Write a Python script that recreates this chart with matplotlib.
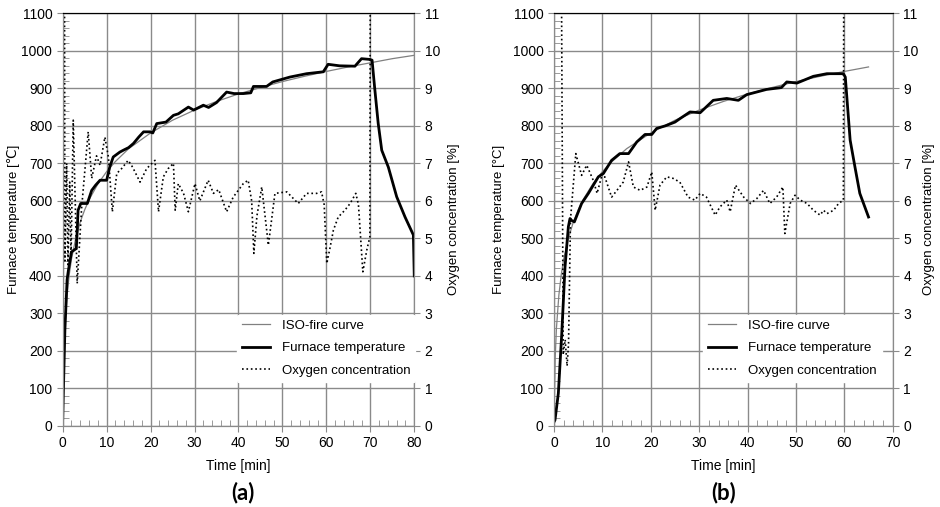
import matplotlib
matplotlib.use('Agg')
import matplotlib.pyplot as plt
from matplotlib.ticker import MultipleLocator

plt.rcParams['font.family'] = ['Liberation Sans', 'DejaVu Sans']
plt.rcParams['font.size'] = 10

# ISO-fire curve values
iso_t = [0, 0.25, 0.5, 1, 1.5, 2, 3, 4, 5, 6, 8, 10, 12, 15, 20, 25, 30, 35,
         40, 45, 50, 55, 60, 65, 70, 75, 80]
iso_T = [20, 185, 261, 349, 404, 445, 502, 544, 576, 603, 645, 678, 705, 739,
         781, 815, 842, 865, 885, 902, 918, 932, 945, 957, 968, 979, 988]

# (a) furnace temperature
fa_t = [0, 0.5, 1.0, 1.3, 2.0, 3.1, 3.3, 3.5, 4.1, 5.6, 6.6, 7.5, 8.5, 10.0,
        10.7, 11.5, 13.0, 13.8, 15.0, 16.1, 17.3, 18.4, 19.9, 20.5, 21.4, 23.5,
        25.2, 26.3, 28.6, 29.8, 32.0, 33.2, 35.0, 37.3, 39.0, 41.1, 42.8, 43.4,
        46.4, 47.8, 51.7, 55.5, 59.3, 60.4, 63.0, 66.5, 68.0, 69.9, 70.4, 71.0,
        71.8, 72.6, 74.1, 76.0, 77.9, 79.8, 80.0]
fa_T = [20, 256, 390, 415, 464, 473, 520, 575, 593, 593, 628, 642, 655, 655,
        690, 717, 730, 735, 742, 753, 770, 784, 784, 781, 806, 810, 828, 832,
        850, 842, 855, 849, 862, 890, 886, 886, 888, 905, 905, 917, 930, 939,
        944, 964, 960, 959, 979, 977, 975, 900, 806, 735, 690, 611, 557, 509, 400]

# (a) oxygen concentration
oa_t = [0, 0.3, 0.5, 0.9, 1.2, 1.6, 1.9, 2.4, 3.3, 4.3, 5.8, 6.6, 7.7, 8.5,
        9.6, 10.4, 11.3, 12.3, 13.4, 14.9, 15.9, 17.6, 19.1, 21.0, 21.8, 22.9,
        24.0, 25.2, 25.6, 26.3, 27.5, 28.6, 30.1, 31.2, 33.1, 34.3, 35.5, 37.3,
        38.8, 41.1, 42.2, 43.0, 43.5, 44.2, 45.3, 46.8, 48.3, 51.0, 53.6, 55.5,
        57.8, 58.9, 59.5, 60.1, 60.8, 61.6, 62.7, 64.2, 65.4, 66.7, 67.3, 68.3,
        69.2, 69.9, 70.1, 80]
oa_O = [20.9, 20.9, 4.4, 7.0, 4.3, 6.5, 4.5, 8.15, 3.8, 5.8, 7.84, 6.6, 7.2,
        6.95, 7.7, 7.17, 5.71, 6.73, 6.86, 7.08, 6.9, 6.5, 6.86, 7.08, 5.71,
        6.64, 6.86, 7.0, 5.75, 6.46, 6.2, 5.71, 6.46, 6.0, 6.55, 6.2, 6.3, 5.71,
        6.1, 6.46, 6.55, 6.0, 4.6, 5.6, 6.37, 4.82, 6.2, 6.24, 5.93, 6.2, 6.2,
        6.24, 5.9, 4.33, 4.73, 5.22, 5.57, 5.75, 5.93, 6.2, 5.9, 4.11, 4.69,
        5.04, 20.9, 20.9]

# (b) furnace temperature
fb_t = [0, 0.2, 0.89, 1.6, 2.27, 2.96, 3.3, 3.6, 4.2, 5.7, 7.1, 9.15, 10.2,
        11.9, 13.6, 15.4, 17.1, 18.8, 20.2, 21.2, 23.0, 25.0, 26.0, 28.1, 30.2,
        32.9, 35.7, 38.1, 39.8, 43.9, 47.0, 48.1, 50.2, 53.6, 56.4, 59.8, 60.2,
        61.2, 62.2, 63.2, 65.0]
fb_T = [11, 16, 87, 247, 424, 531, 553, 548, 544, 593, 620, 664, 673, 708, 726,
        726, 757, 777, 777, 793, 800, 810, 819, 837, 835, 868, 873, 868, 883,
        897, 902, 917, 914, 932, 939, 939, 930, 762, 690, 620, 557]

# (b) oxygen concentration
ob_t = [0, 1.2, 1.9, 2.3, 2.7, 3.0, 3.4, 4.5, 5.7, 6.75, 8.1, 8.9, 9.8, 10.5,
        11.9, 13.0, 14.3, 15.4, 16.4, 17.8, 19.2, 20.2, 20.9, 21.9, 23.3, 24.6,
        26.0, 27.7, 29.1, 30.2, 31.5, 33.3, 34.3, 35.7, 36.4, 37.5, 39.2, 40.6,
        41.9, 43.3, 44.6, 46.0, 47.3, 47.7, 48.8, 49.8, 50.9, 52.3, 53.6, 55.0,
        55.7, 56.4, 57.8, 58.8, 59.8, 60.0, 65]
ob_O = [20.9, 20.9, 1.9, 2.3, 1.6, 2.2, 5.5, 7.26, 6.68, 6.95, 6.55, 6.2, 6.64,
        6.64, 6.1, 6.28, 6.5, 7.04, 6.37, 6.28, 6.37, 6.77, 5.75, 6.42, 6.64,
        6.6, 6.5, 6.1, 6.02, 6.2, 6.1, 5.62, 5.84, 6.02, 5.71, 6.42, 6.1, 5.93,
        6.06, 6.28, 5.93, 6.1, 6.37, 5.13, 5.93, 6.15, 6.02, 5.93, 5.75, 5.62,
        5.75, 5.66, 5.75, 5.93, 6.02, 20.9, 20.9]

grid_c = '#8a8a8a'


def draw_panel(rect, xmax, iso_end, ft, fT, ot, oO, ylab, lx, rx, legx, tag, tagx):
    ax = fig.add_axes(rect)
    n = iso_t.index(iso_end) + 1
    ax.plot(iso_t[:n], iso_T[:n], color='#808080', lw=0.9, label='ISO-fire curve')
    ax.plot(ft, fT, color='black', lw=2, label='Furnace temperature')
    ax.set_xlim(0, xmax)
    ax.set_ylim(0, 1100)
    ax.xaxis.set_major_locator(MultipleLocator(10))
    ax.xaxis.set_minor_locator(MultipleLocator(2))
    ax.yaxis.set_major_locator(MultipleLocator(100))
    ax.yaxis.set_minor_locator(MultipleLocator(20))
    ax.grid(True, which='major', color=grid_c, lw=1)
    ax.set_axisbelow(True)
    ax.tick_params(which='major', direction='out', length=4, color=grid_c, labelsize=10)
    ax.tick_params(which='minor', direction='in', length=4, color=grid_c)
    ax.set_xlabel('Time [min]', fontsize=10, labelpad=6)
    ax.set_ylabel(ylab, fontsize=9.5)
    ax.yaxis.set_label_coords(lx, 0.5)

    ax2 = ax.twinx()
    ax2.plot(ot, oO, color='black', lw=1.2, ls=':', label='Oxygen concentration')
    ax2.set_ylim(0, 11)
    ax2.yaxis.set_major_locator(MultipleLocator(1))
    ax2.tick_params(direction='out', length=4, color=grid_c, labelsize=10)
    ax2.set_ylabel('Oxygen concentration [%]', fontsize=9.5)
    ax2.yaxis.set_label_coords(rx, 0.5)
    for a in (ax, ax2):
        for s in a.spines.values():
            s.set_color(grid_c)
        a.spines['top'].set_color('black')

    h1, l1 = ax.get_legend_handles_labels()
    h2, l2 = ax2.get_legend_handles_labels()
    leg = ax2.legend(h1 + h2, l1 + l2, loc='upper left', bbox_to_anchor=(legx, 0.27),
                     frameon=True, fontsize=9.5, handlelength=2.1,
                     handletextpad=0.9, labelspacing=0.76, borderaxespad=0)
    leg.get_frame().set_facecolor('white')
    leg.get_frame().set_edgecolor('white')
    leg.get_frame().set_alpha(1)

    fig.text(tagx, 0.028, tag, fontsize=16, fontweight='bold', family='Lato',
             ha='center', va='center')


fig = plt.figure(figsize=(9.4, 5.07), dpi=100)

draw_panel([0.0667, 0.1598, 0.374, 0.814], 80, 80, fa_t, fa_T, oa_t, oa_O,
           'Furnace temperature [\u2103]', -0.121, 1.096, 0.495, '(a)', 0.258)
draw_panel([0.5894, 0.1598, 0.3603, 0.814], 70, 65, fb_t, fb_T, ob_t, ob_O,
           'Furnace temperature [°C]', -0.145, 1.089, 0.44, '(b)', 0.770)

plt.savefig('out.png', dpi=100)
